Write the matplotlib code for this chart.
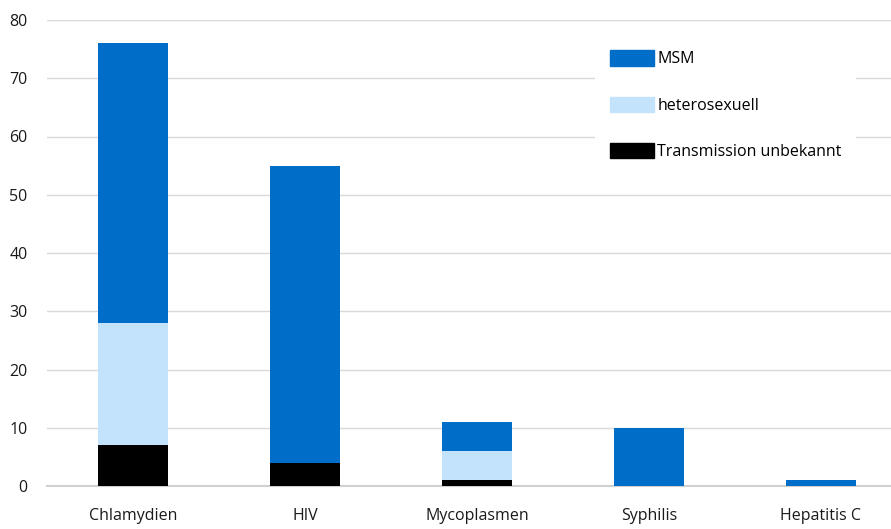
import numpy as np
import matplotlib.pyplot as plt
from matplotlib.patches import Patch

categories = ['Chlamydien', 'HIV', 'Mycoplasmen', 'Syphilis', 'Hepatitis C']
unbekannt = [7, 4, 1, 0, 0]
hetero = [21, 0, 5, 0, 0]
msm = [48, 51, 5, 10, 1]

plt.rcParams['font.family'] = ['Open Sans', 'DejaVu Sans']

fig = plt.figure(figsize=(8.91, 5.29), dpi=100)
ax = fig.add_axes([47 / 891, 43 / 529, 844 / 891, 466 / 529])

x = np.arange(len(categories))
w = 0.41
c_msm, c_het, c_unb = '#006ec8', '#c3e3fd', '#000000'

ax.bar(x, unbekannt, w, color=c_unb, zorder=3)
ax.bar(x, hetero, w, bottom=unbekannt, color=c_het, zorder=3)
bottom2 = np.array(unbekannt) + np.array(hetero)
ax.bar(x, msm, w, bottom=bottom2, color=c_msm, zorder=3)

ax.set_xlim(-0.5, -0.5 + 844 / 172)
ax.set_ylim(0, 80)
ax.set_yticks(range(0, 81, 10))
ax.set_xticks(x)
ax.set_xticklabels(categories)
ax.tick_params(axis='both', length=0, labelsize=11.5, colors='#1a1a1a')
ax.tick_params(axis='x', pad=16)
ax.tick_params(axis='y', pad=14)
ax.grid(axis='y', color='#d9d9d9', lw=1, zorder=0)
for s in ['top', 'right', 'left']:
    ax.spines[s].set_visible(False)
ax.spines['bottom'].set_color('#d0d0d0')
ax.spines['bottom'].set_linewidth(1.5)

handles = [Patch(color=c_msm), Patch(color=c_het), Patch(color=c_unb)]
leg = ax.legend(handles, ['MSM', 'heterosexuell', 'Transmission unbekannt'],
                loc='upper left', bbox_to_anchor=(0.64, 0.983),
                frameon=True, facecolor='white', edgecolor='none', framealpha=1,
                fontsize=11.5, handlelength=2.8, handleheight=1.1,
                handletextpad=0.2, labelspacing=1.83, borderpad=0.9)
leg.set_zorder(5)

fig.savefig('out.png', dpi=100)
